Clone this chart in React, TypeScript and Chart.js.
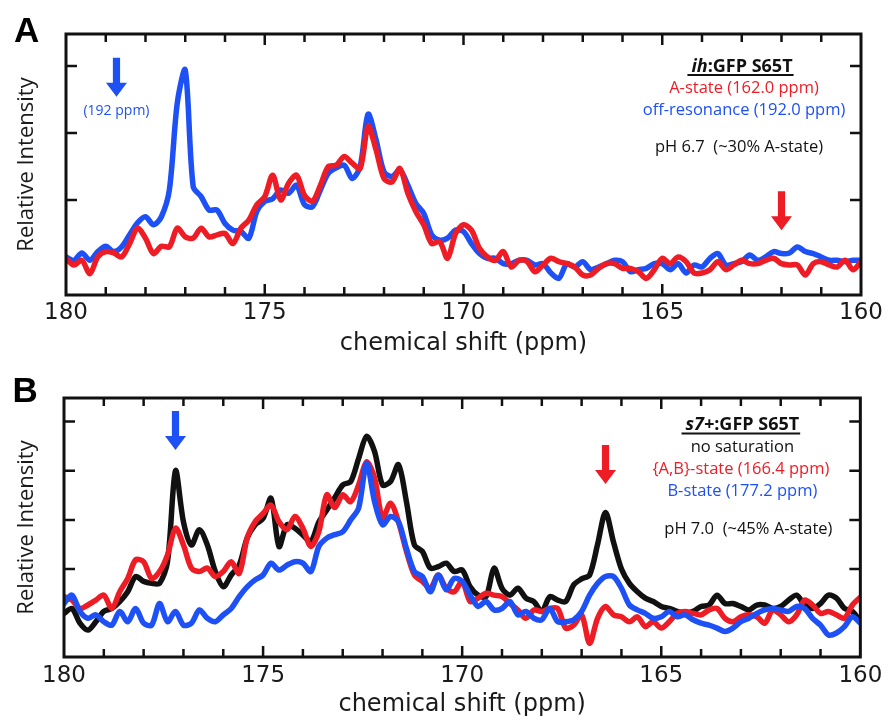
import React, { useEffect, useRef } from "react";
import { Chart, registerables } from "chart.js";

Chart.register(...registerables);

// ---------------- data ----------------
// chemical shift sample positions (ppm)
const ppm: number[] = [
  180.0, 179.8, 179.6, 179.4, 179.2, 179.0, 178.8, 178.6, 178.4, 178.2,
  178.0, 177.8, 177.6, 177.4, 177.2, 177.0, 176.8, 176.6, 176.4, 176.2,
  176.0, 175.8, 175.6, 175.4, 175.2, 175.0, 174.8, 174.6, 174.4, 174.2,
  174.0, 173.8, 173.6, 173.4, 173.2, 173.0, 172.8, 172.6, 172.4, 172.2,
  172.0, 171.8, 171.6, 171.4, 171.2, 171.0, 170.8, 170.6, 170.4, 170.2,
  170.0, 169.8, 169.6, 169.4, 169.2, 169.0, 168.8, 168.6, 168.4, 168.2,
  168.0, 167.8, 167.6, 167.4, 167.2, 167.0, 166.8, 166.6, 166.4, 166.2,
  166.0, 165.8, 165.6, 165.4, 165.2, 165.0, 164.8, 164.6, 164.4, 164.2,
  164.0, 163.8, 163.6, 163.4, 163.2, 163.0, 162.8, 162.6, 162.4, 162.2,
  162.0, 161.8, 161.6, 161.4, 161.2, 161.0, 160.8, 160.6, 160.4, 160.2,
  160.0,
];

// Panel A: ih:GFP S65T
const aStateA: number[] = [
  0.13, 0.03, 0.10, -0.10, 0.15, 0.23, 0.21, 0.15, 0.35, 0.58,
  0.43, 0.20, 0.31, 0.30, 0.58, 0.45, 0.43, 0.58, 0.45, 0.48,
  0.50, 0.35, 0.58, 0.70, 0.93, 1.05, 1.37, 1.00, 1.25, 1.37,
  1.07, 0.98, 1.22, 1.50, 1.52, 1.65, 1.55, 1.47, 2.10, 1.75,
  1.32, 1.27, 1.47, 1.10, 0.83, 0.63, 0.35, 0.38, 0.13, 0.50,
  0.63, 0.55, 0.28, 0.15, 0.10, 0.23, 0.00, 0.10, 0.08, -0.07,
  0.03, 0.13, 0.08, 0.05, 0.00, -0.12, -0.12, -0.02, 0.05, 0.05,
  -0.02, -0.02, -0.07, -0.17, -0.04, 0.13, 0.05, 0.15, 0.08, -0.09,
  -0.09, -0.04, 0.08, -0.04, 0.03, 0.10, 0.05, 0.05, 0.10, 0.13,
  0.05, 0.03, 0.03, -0.12, 0.05, 0.08, 0.03, 0.00, 0.10, -0.04,
  0.08,
];
const offResA: number[] = [
  0.15, 0.10, 0.21, 0.10, 0.23, 0.31, 0.23, 0.30, 0.48, 0.66,
  0.75, 0.63, 0.75, 1.15, 2.45, 2.94, 1.20, 1.05, 0.85, 0.85,
  0.65, 0.55, 0.53, 0.43, 0.83, 0.98, 1.02, 1.15, 1.10, 1.22,
  0.93, 0.90, 1.15, 1.40, 1.48, 1.52, 1.32, 1.50, 2.28, 1.90,
  1.42, 1.35, 1.45, 1.22, 0.95, 0.80, 0.48, 0.40, 0.43, 0.55,
  0.53, 0.35, 0.20, 0.13, 0.13, 0.05, 0.05, 0.10, 0.10, 0.03,
  0.05, -0.09, -0.17, 0.05, 0.00, 0.08, -0.04, 0.00, 0.05, 0.10,
  0.08, -0.07, -0.04, -0.02, 0.05, 0.05, -0.04, 0.05, -0.09, 0.03,
  0.00, 0.13, 0.20, 0.03, 0.05, 0.08, 0.18, 0.10, 0.15, 0.23,
  0.20, 0.21, 0.30, 0.23, 0.20, 0.15, 0.10, 0.10, 0.08, 0.10,
  0.10,
];

// Panel B: s7+:GFP S65T
const noSatB: number[] = [
  0.10, 0.20, -0.10, -0.24, -0.07, 0.14, 0.20, 0.34, 0.54, 0.85,
  0.75, 0.71, 0.71, 1.15, 3.00, 1.96, 1.49, 1.80, 1.49, 0.95,
  0.64, 0.88, 1.08, 1.63, 1.90, 2.03, 2.44, 1.46, 1.90, 1.83,
  1.69, 1.56, 1.96, 2.20, 2.45, 2.71, 2.78, 3.25, 3.70, 3.39,
  2.71, 2.78, 3.12, 2.37, 1.49, 1.36, 1.02, 1.05, 1.12, 0.95,
  0.98, 0.64, 0.47, 0.44, 1.02, 0.61, 0.47, 0.61, 0.41, 0.34,
  0.14, 0.44, 0.37, 0.34, 0.68, 0.80, 0.88, 1.50, 2.15, 1.55,
  1.00, 0.71, 0.54, 0.41, 0.34, 0.24, 0.20, 0.14, 0.10, 0.14,
  0.24, 0.27, 0.47, 0.30, 0.30, 0.24, 0.17, 0.27, 0.27, 0.20,
  0.24, 0.37, 0.47, 0.27, 0.20, 0.30, 0.47, 0.41, 0.20, 0.14,
  -0.07,
];
const abStateB: number[] = [
  0.44, 0.37, 0.20, 0.27, 0.37, 0.47, 0.20, 0.54, 0.81, 1.19,
  1.15, 0.81, 0.95, 1.29, 1.83, 1.49, 1.02, 0.95, 1.02, 0.85,
  0.95, 1.15, 0.91, 1.63, 1.96, 2.13, 2.30, 1.96, 1.80, 2.07,
  1.83, 1.46, 1.76, 2.51, 2.25, 2.51, 2.37, 2.71, 3.18, 2.85,
  2.03, 2.34, 1.96, 1.36, 0.88, 0.75, 0.61, 0.88, 0.61, 0.54,
  0.75, 0.34, 0.41, 0.51, 0.47, 0.44, 0.30, 0.17, 0.00, 0.17,
  0.14, 0.20, 0.20, -0.20, -0.14, 0.07, -0.51, 0.00, 0.24, 0.07,
  0.03, -0.07, 0.03, -0.17, -0.07, -0.20, -0.07, 0.10, 0.14, 0.10,
  0.07, 0.17, 0.20, 0.00, -0.07, 0.03, 0.07, 0.03, -0.10, 0.17,
  0.07, -0.07, 0.07, 0.37, 0.27, 0.10, 0.14, 0.07, 0.00, 0.27,
  0.43,
];
const bStateB: number[] = [
  0.30, 0.47, 0.14, 0.00, 0.07, -0.07, -0.14, 0.14, -0.07, 0.20,
  -0.10, -0.14, 0.30, -0.07, 0.14, -0.14, -0.10, 0.17, 0.00, -0.07,
  0.07, 0.20, 0.44, 0.64, 0.78, 0.88, 1.12, 0.98, 1.08, 1.15,
  1.12, 0.95, 1.46, 1.63, 1.70, 1.76, 2.00, 2.24, 3.15, 2.37,
  1.90, 2.07, 1.96, 1.42, 0.95, 0.85, 0.54, 0.88, 0.58, 0.81,
  0.75, 0.47, 0.24, 0.34, 0.17, 0.20, 0.34, 0.07, 0.14, 0.00,
  -0.03, 0.20, -0.07, -0.07, -0.03, 0.14, 0.47, 0.71, 0.85, 0.85,
  0.61, 0.27, 0.17, 0.10, 0.00, 0.03, 0.14, 0.03, 0.07, -0.03,
  -0.10, -0.14, -0.20, -0.27, -0.20, -0.07, 0.00, 0.10, 0.17, 0.20,
  0.17, 0.14, 0.24, 0.20, 0.00, -0.14, -0.34, -0.30, -0.17, 0.03,
  -0.10,
];

// axis ticks
const xTickLabels: number[] = [180, 175, 170, 165, 160];
const xMajorTicks: number[] = [175, 170, 165];
const xMinorTicks: number[] = [179, 178, 177, 176, 174, 173, 172, 171, 169, 168, 167, 166, 164, 163, 162, 161];
const yTicksA: number[] = [1, 2, 3];
const yTicksB: number[] = [1, 2, 3, 4];

// annotation arrows (ppm position, tip intensity)
const arrowsA = [
  { ppm: 178.73, tip: 2.54, color: "blue", label: "(192 ppm)" },
  { ppm: 162.0, tip: 0.55, color: "red", label: "" },
];
const arrowsB = [
  { ppm: 177.2, tip: 3.42, color: "blue", label: "" },
  { ppm: 166.4, tip: 2.73, color: "red", label: "" },
];

// ---------------- styles ----------------
const RED = "#ee1c24";
const BLUE = "#1d50f5";
const BLACK = "#111111";
const TEXT = "#1a1a1a";
const colorOf = (c: string) => (c === "red" ? RED : c === "blue" ? BLUE : BLACK);

type Piece = { text: string; font: string; color: string };
type TextLine = { pieces: Piece[]; dx: number; dy: number; underline?: boolean };

const REG = '16.5px "Open Sans", sans-serif';
const BOLD = 'bold 18px "Open Sans", sans-serif';
const BOLDIT = 'italic bold 18px "Open Sans", sans-serif';

const textA: TextLine[] = [
  { pieces: [{ text: "ih", font: BOLDIT, color: BLACK }, { text: ":GFP S65T", font: BOLD, color: BLACK }], dx: -119, dy: 37.5, underline: true },
  { pieces: [{ text: "A-state (162.0 ppm)", font: REG, color: RED }], dx: -117, dy: 59 },
  { pieces: [{ text: "off-resonance (192.0 ppm)", font: REG, color: BLUE }], dx: -117, dy: 81 },
  { pieces: [{ text: "pH 6.7  (~30% A-state)", font: REG, color: BLACK }], dx: -122, dy: 118 },
];
const textB: TextLine[] = [
  { pieces: [{ text: "s7+", font: BOLDIT, color: BLACK }, { text: ":GFP S65T", font: BOLD, color: BLACK }], dx: -118, dy: 32, underline: true },
  { pieces: [{ text: "no saturation", font: REG, color: BLACK }], dx: -118, dy: 54.3 },
  { pieces: [{ text: "{A,B}-state (166.4 ppm)", font: REG, color: RED }], dx: -119.5, dy: 76 },
  { pieces: [{ text: "B-state (177.2 ppm)", font: REG, color: BLUE }], dx: -118, dy: 98 },
  { pieces: [{ text: "pH 7.0  (~45% A-state)", font: REG, color: BLACK }], dx: -112, dy: 136.3 },
];

type PanelCfg = {
  letter: string;
  letterX: number;
  height: number;
  padTop: number;
  padRight: number;
  yAxisWidth: number;
  xAxisHeight: number;
  yMin: number;
  yMax: number;
  xTickPad: number;
  xTitlePad: number;
  yTicks: number[];
  arrows: { ppm: number; tip: number; color: string; label: string }[];
  texts: TextLine[];
  series: { label: string; data: number[]; color: string; order: number }[];
};

const panelA: PanelCfg = {
  letter: "A",
  letterX: 14,
  height: 360,
  padTop: 34,
  padRight: 27,
  yAxisWidth: 66,
  xAxisHeight: 65,
  yMin: -0.418,
  yMax: 3.478,
  xTickPad: 4.7,
  xTitlePad: 2.2,
  yTicks: yTicksA,
  arrows: arrowsA,
  texts: textA,
  series: [
    { label: "A-state (162.0 ppm)", data: aStateA, color: RED, order: 0 },
    { label: "off-resonance (192.0 ppm)", data: offResA, color: BLUE, order: 1 },
  ],
};

const panelB: PanelCfg = {
  letter: "B",
  letterX: 12.5,
  height: 361,
  padTop: 38,
  padRight: 26,
  yAxisWidth: 64,
  xAxisHeight: 64,
  yMin: -0.787,
  yMax: 4.478,
  xTickPad: 5.7,
  xTitlePad: 1.6,
  yTicks: yTicksB,
  arrows: arrowsB,
  texts: textB,
  series: [
    { label: "B-state (177.2 ppm)", data: bStateB, color: BLUE, order: 0 },
    { label: "{A,B}-state (166.4 ppm)", data: abStateB, color: RED, order: 1 },
    { label: "no saturation", data: noSatB, color: BLACK, order: 2 },
  ],
};

function drawArrow(ctx: CanvasRenderingContext2D, x: number, tipY: number, color: string) {
  const total = 39;
  const headLen = 14;
  const shaftHalf = 3.6;
  const headHalf = 10.5;
  ctx.fillStyle = color;
  ctx.beginPath();
  ctx.moveTo(x - shaftHalf, tipY - total);
  ctx.lineTo(x + shaftHalf, tipY - total);
  ctx.lineTo(x + shaftHalf, tipY - headLen);
  ctx.lineTo(x + headHalf, tipY - headLen);
  ctx.lineTo(x, tipY);
  ctx.lineTo(x - headHalf, tipY - headLen);
  ctx.lineTo(x - shaftHalf, tipY - headLen);
  ctx.closePath();
  ctx.fill();
}

function drawDecor(chart: any, p: PanelCfg) {
  const ctx: CanvasRenderingContext2D = chart.ctx;
  const a = chart.chartArea;
  const xs = chart.scales.x;
  const ys = chart.scales.y;
  ctx.save();

  // inward tick marks
  ctx.strokeStyle = BLACK;
  ctx.lineWidth = 2.5;
  ctx.lineCap = "butt";
  ctx.beginPath();
  const allX = [...xMinorTicks.map((v) => [v, 8]), ...xMajorTicks.map((v) => [v, 11])];
  for (const [v, len] of allX) {
    const px = xs.getPixelForValue(v);
    ctx.moveTo(px, a.top);
    ctx.lineTo(px, a.top + len);
    ctx.moveTo(px, a.bottom);
    ctx.lineTo(px, a.bottom - len);
  }
  for (const v of p.yTicks) {
    const py = ys.getPixelForValue(v);
    ctx.moveTo(a.left, py);
    ctx.lineTo(a.left + 11, py);
    ctx.moveTo(a.right, py);
    ctx.lineTo(a.right - 11, py);
  }
  ctx.stroke();

  // frame
  ctx.lineWidth = 3;
  ctx.strokeRect(a.left, a.top, a.right - a.left, a.bottom - a.top);

  // arrows
  for (const ar of p.arrows) {
    const x = xs.getPixelForValue(ar.ppm);
    const tipY = ys.getPixelForValue(ar.tip);
    drawArrow(ctx, x, tipY, colorOf(ar.color));
    if (ar.label) {
      ctx.font = '14px "Open Sans", sans-serif';
      ctx.textAlign = "center";
      ctx.textBaseline = "alphabetic";
      ctx.fillStyle = colorOf(ar.color);
      ctx.fillText(ar.label, x, tipY + 18.3);
    }
  }

  // annotation text block
  ctx.textAlign = "left";
  ctx.textBaseline = "alphabetic";
  for (const line of p.texts) {
    let total = 0;
    const widths = line.pieces.map((pc) => {
      ctx.font = pc.font;
      const w = ctx.measureText(pc.text).width;
      total += w;
      return w;
    });
    const cx = a.right + line.dx;
    const by = a.top + line.dy;
    let x = cx - total / 2;
    const x0 = x;
    line.pieces.forEach((pc, i) => {
      ctx.font = pc.font;
      ctx.fillStyle = pc.color;
      ctx.fillText(pc.text, x, by);
      x += widths[i];
    });
    if (line.underline) {
      ctx.strokeStyle = BLACK;
      ctx.lineWidth = 1.8;
      ctx.beginPath();
      ctx.moveTo(x0 - 4, by + 3.5);
      ctx.lineTo(x + 1, by + 3.5);
      ctx.stroke();
    }
  }

  // panel letter
  ctx.font = 'bold 35px "Liberation Sans", Arial, sans-serif';
  ctx.fillStyle = "#000";
  ctx.textAlign = "left";
  ctx.fillText(p.letter, p.letterX, 41.7);

  ctx.restore();
}

function Panel({ cfg, top }: { cfg: PanelCfg; top: number }) {
  const ref = useRef<HTMLCanvasElement | null>(null);
  useEffect(() => {
    const canvas = ref.current;
    if (!canvas) return;
    const chart = new Chart(canvas, {
      type: "line",
      data: {
        datasets: cfg.series.map((s) => ({
          label: s.label,
          data: ppm.map((x, i) => ({ x, y: s.data[i] })),
          borderColor: s.color,
          backgroundColor: s.color,
          borderWidth: 5.5,
          pointRadius: 0,
          tension: 0.3,
          fill: false,
          order: s.order,
          borderJoinStyle: "round",
          borderCapStyle: "round",
        })),
      },
      options: {
        animation: false,
        responsive: false,
        events: [],
        layout: { padding: { left: 0, right: cfg.padRight, top: cfg.padTop, bottom: 0 } },
        plugins: { legend: { display: false }, tooltip: { enabled: false } },
        scales: {
          x: {
            type: "linear",
            position: "bottom",
            reverse: true,
            min: 160,
            max: 180,
            afterFit: (s: any) => {
              s.height = cfg.xAxisHeight;
            },
            afterBuildTicks: (s: any) => {
              s.ticks = xTickLabels.map((v) => ({ value: v }));
            },
            grid: { display: false, drawTicks: false },
            border: { display: false },
            ticks: {
              stepSize: 5,
              padding: cfg.xTickPad,
              color: TEXT,
              autoSkip: false,
              maxRotation: 0,
              font: { family: '"DejaVu Sans", sans-serif', size: 23 },
              callback: (v: any) => String(v),
            },
            title: {
              display: true,
              text: "chemical shift (ppm)",
              color: TEXT,
              font: { family: '"DejaVu Sans", sans-serif', size: 24 },
              padding: { top: 0, bottom: cfg.xTitlePad },
            },
          },
          y: {
            type: "linear",
            min: cfg.yMin,
            max: cfg.yMax,
            afterFit: (s: any) => {
              s.width = cfg.yAxisWidth;
            },
            grid: { display: false, drawTicks: false },
            border: { display: false },
            ticks: { display: false, stepSize: 1 },
            title: {
              display: true,
              text: "Relative Intensity",
              color: TEXT,
              font: { family: '"Open Sans", sans-serif', size: 22 },
              padding: { top: 13.3, bottom: 0 },
            },
          },
        },
      } as any,
      plugins: [
        {
          id: "decor",
          afterDraw: (c: any) => drawDecor(c, cfg),
        },
      ],
    });
    return () => chart.destroy();
  }, [cfg]);
  return (
    <canvas
      ref={ref}
      width={888}
      height={cfg.height}
      style={{ position: "absolute", left: 0, top, width: 888, height: cfg.height, display: "block" }}
    />
  );
}

export default function App() {
  return (
    <div style={{ position: "absolute", left: 0, top: 0, width: 888, height: 721, background: "#fff", overflow: "hidden" }}>
      <Panel cfg={panelA} top={0} />
      <Panel cfg={panelB} top={360} />
    </div>
  );
}
